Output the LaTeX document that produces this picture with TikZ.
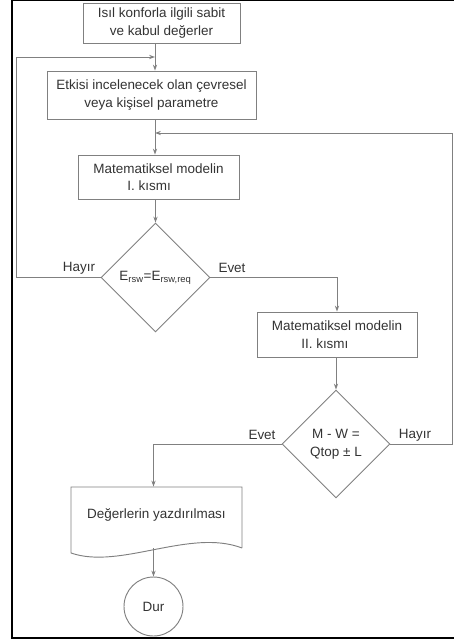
\documentclass[tikz,border=0pt]{standalone}
\usepackage{fontspec}
\setmainfont{Liberation Sans}
\usetikzlibrary{arrows.meta,shapes.geometric}

\begin{document}
\begin{tikzpicture}[
  x=0.03cm, y=-0.03cm,
  >={Stealth[length=5pt,width=3.6pt]},
  line/.style={draw=black!50, line width=0.8pt},
  box/.style={line, rectangle, align=center, inner sep=0pt, text=black!80,
              font=\fontsize{11.5}{15}\selectfont},
  dec/.style={line, diamond, aspect=1, inner sep=0pt},
  lbl/.style={text=black!80, font=\fontsize{11.5}{15}\selectfont, align=center}
]
\useasboundingbox (0,0) rectangle (454,640);
\draw[line width=1.6pt] (456,0) -| (12,638) -- (456,638);

\node[box, minimum width=4.71cm, minimum height=1.2cm]  (sabit)  at (161.5,23)  {Isıl konforla ilgili sabit\\ve kabul değerler};
\node[box, minimum width=6.27cm, minimum height=1.44cm] (param)  at (151.5,95)  {Etkisi incelenecek olan çevresel\\veya kişisel parametre};
\node[box, minimum width=4.83cm, minimum height=1.32cm] (model1) at (158.5,177)
  {Matematiksel modelin\\I. kısmı\rule{1.4em}{0pt}};
\node[dec, minimum width=3.27cm, minimum height=3.27cm,
      label={[lbl]center:E\textsubscript{rsw}=E\textsubscript{rsw,req}}] (karar1) at (155.5,277.5) {};
\node[box, minimum width=4.8cm, minimum height=1.35cm] (model2) at (337,334.5)
  {Matematiksel modelin\\II. kısmı\rule{1.8em}{0pt}};
\node[dec, minimum width=3.24cm, minimum height=3.24cm,
      label={[lbl]center:M - W =\\Qtop ± L}] (karar2) at (336,444) {};
\node[box, draw=none, minimum width=5.13cm, minimum height=1.83cm] (yazdir) at (156.5,517.5) {\raisebox{0.21cm}{Değerlerin yazdırılması}};
\node[box, circle, minimum size=1.77cm] (dur) at (153.5,606.5) {Dur};

% document outline
\draw[line] (242,548) -- (242,487) -- (71,487) -- (71,553)
  .. controls (120,570) and (190,528) .. (242,548);

\coordinate (j1) at (155,57);
\coordinate (j2) at (155,133);

\draw[line,->] (sabit.south -| j1) -- (param.north -| j1);
\draw[line,->] (param.south -| j2) -- (model1.north -| j2);
\draw[line,->] (model1.south -| karar1) -- (karar1.north);
\draw[line,->] (karar1.west) -- ++(-84,0) |- (j1);
\draw[line,->] (karar1.east) -| (model2.north);
\draw[line,->] (model2.south -| karar2) -- (karar2.north);
\draw[line,->] (karar2.east) -- ++(62,0) |- (j2);
\draw[line,->] (karar2.west) -| (yazdir.north -| dur);
\draw[line,->] (yazdir.south -| dur) -- (dur.north);

\node[lbl] (hayir1) at (79,268)  {Hayır};
\node[lbl] (evet1)  at (232,268) {Evet};
\node[lbl] (evet2)  at (262,435) {Evet};
\node[lbl] (hayir2) at (415,435) {Hayır};
\end{tikzpicture}
\end{document}
